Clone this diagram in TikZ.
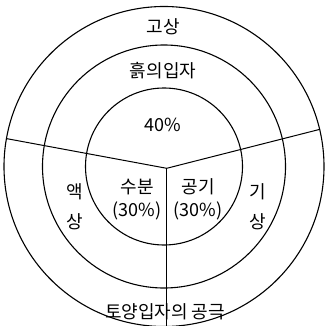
\documentclass[tikz,border=0pt]{standalone}
\usepackage{fontspec}
\newfontfamily\kr{Noto Sans CJK KR}
\begin{document}
\begin{tikzpicture}[x=1pt,y=-1pt,
  ring/.style={circle,draw,line width=1.1pt,inner sep=0pt,outer sep=0pt},
  seg/.style={line width=1pt},
  lbl/.style={font=\kr\fontsize{18}{20}\selectfont,inner sep=0pt,align=center}]
\useasboundingbox (0,0) rectangle (325,326);
\clip (0,0) rectangle (325,326);
\coordinate (c) at (164,166.5);
\node[ring,minimum size=320pt] (outer) at (c) {};
\node[ring,minimum size=243pt] (middle) at (c) {};
\node[ring,minimum size=157pt] (inner) at (c) {};
\coordinate (J) at (166.7,168.3);
\coordinate (L) at (7,138.7);
\coordinate (R) at (320,129.3);
\coordinate (B) at (166.7,326);
\draw[seg] (J) -- (L);
\draw[seg] (J) -- (R);
\draw[seg] (J) -- (B);
\node[lbl] (gosang) at (163,27) {고상};
\node[lbl] (heuk) at (163,71) {흙의입자};
\node[lbl] (forty) at (163,125) {40\%};
\node[lbl] (subun) at (137,187) {수분};
\node[lbl] (subunp) at (137,211) {(30\%)};
\node[lbl] (gonggi) at (198,187) {공기};
\node[lbl] (gonggip) at (198,211) {(30\%)};
\node[lbl] (aek) at (75,192) {액};
\node[lbl] (aeksang) at (75,222) {상};
\node[lbl] (gi) at (258,192) {기};
\node[lbl] (gisang) at (258,222) {상};
\node[lbl] (gonggeuk) at (165,312) {토양입자의 공극};
\end{tikzpicture}
\end{document}
